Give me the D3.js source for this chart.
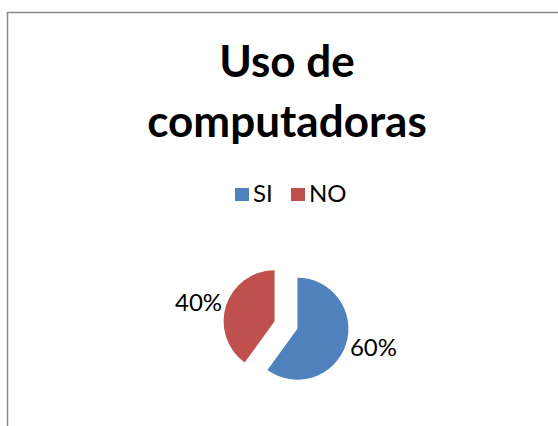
<!DOCTYPE html>
<html>
<head>
<meta charset="utf-8">
<script src="https://cdn.jsdelivr.net/npm/d3@7"></script>
<style>
  body { margin: 0; background: #fff; }
  svg { display: block; }
</style>
</head>
<body>
<div id="chart"></div>
<script>
const categories = ["SI", "NO"];
const values = [60, 40];
const colors = ["#4F81BD", "#C0504D"];
const titleLines = ["Uso de", "computadoras"];

const width = 558, height = 426;
const font = "Lato, 'Open Sans', sans-serif";

const svg = d3.select("#chart").append("svg")
    .attr("width", width)
    .attr("height", height);

// chart frame (runs off the right and bottom of the picture)
svg.append("rect")
    .attr("x", 7.5)
    .attr("y", 12.5)
    .attr("width", 640)
    .attr("height", 520)
    .attr("fill", "#fff")
    .attr("stroke", "#8c8c8c")
    .attr("stroke-width", 1.5);

// title
svg.append("g").selectAll("text")
    .data(titleLines)
    .join("text")
    .attr("x", 287)
    .attr("y", (d, i) => 77 + i * 60)
    .attr("text-anchor", "middle")
    .style("font-family", font)
    .style("font-weight", "bold")
    .style("font-size", "44px")
    .style("fill", "#000")
    .text(d => d);

// legend
const legend = svg.append("g").attr("transform", "translate(235,188)");
const legendX = d3.scaleOrdinal().domain(categories).range([0, 56]);

const item = legend.selectAll("g")
    .data(categories)
    .join("g")
    .attr("transform", d => `translate(${legendX(d)},0)`);

item.append("rect")
    .attr("width", 14)
    .attr("height", 13)
    .attr("fill", (d, i) => colors[i]);

item.append("text")
    .attr("x", 18)
    .attr("y", 14)
    .style("font-family", font)
    .style("font-size", "24px")
    .style("fill", "#000")
    .text(d => d);

// pie
const cx = 286, cy = 325, r = 51, explode = 12;
const pie = d3.pie().sort(null).value(d => d);
const arc = d3.arc().innerRadius(0).outerRadius(r);
const total = d3.sum(values);

const slices = pie(values);

const mid = d => (d.startAngle + d.endAngle) / 2;

const g = svg.append("g").attr("transform", `translate(${cx},${cy})`);

const sg = g.selectAll("g.slice")
    .data(slices)
    .join("g")
    .attr("class", "slice")
    .attr("transform", d => `translate(${Math.sin(mid(d)) * explode},${-Math.cos(mid(d)) * explode})`);

sg.append("path")
    .attr("d", arc)
    .attr("fill", (d, i) => colors[i]);

// labels sit outside, on a slightly flattened ring
sg.append("text")
    .attr("x", d => Math.sin(mid(d)) * 80)
    .attr("y", d => -Math.cos(mid(d)) * 60)
    .attr("text-anchor", "middle")
    .attr("dy", "0.35em")
    .style("font-family", font)
    .style("font-size", "24px")
    .style("fill", "#000")
    .text(d => Math.round(d.value / total * 100) + "%");
</script>
</body>
</html>
